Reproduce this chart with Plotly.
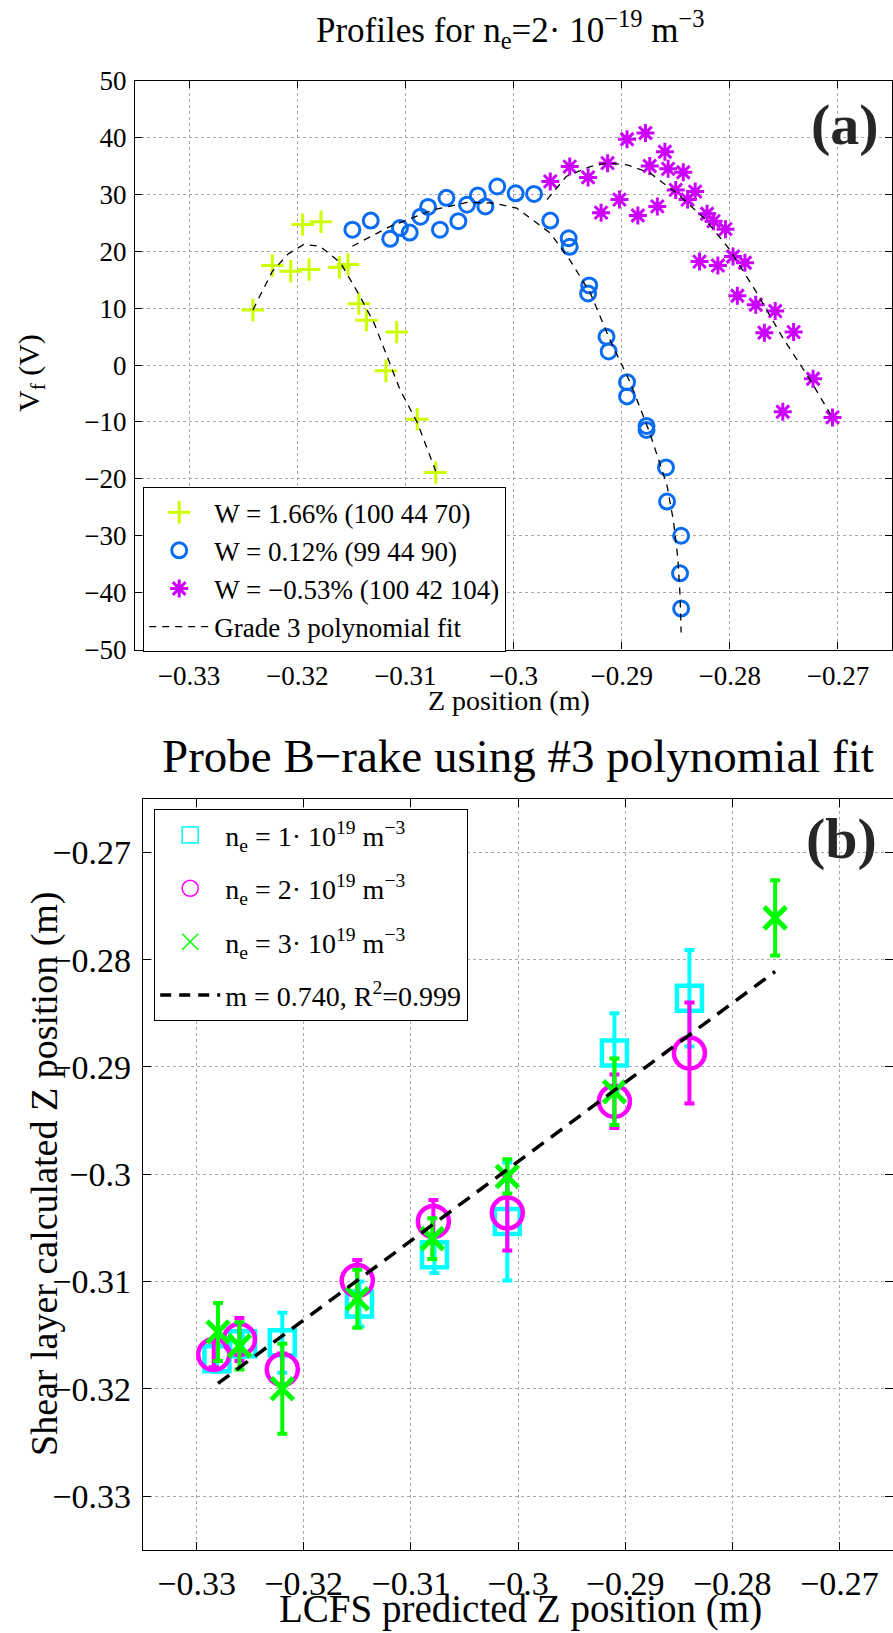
import plotly.graph_objects as go

FONT = "Liberation Serif"

# ---------------- Panel (a): floating potential profiles ----------------
z_w166 = [-0.3241, -0.3223, -0.3206, -0.3195, -0.3189, -0.3178, -0.3161, -0.3153,
          -0.3143, -0.3136, -0.3118, -0.3108, -0.3089, -0.3072]
v_w166 = [9.7, 17.5, 16.5, 24.7, 16.8, 25.2, 17.2, 17.7, 10.8, 7.9, -1.0, 5.8, -9.5, -18.9]

z_w012 = [-0.3149, -0.3132, -0.3114, -0.3105, -0.3096, -0.3086, -0.3079, -0.3068,
          -0.3062, -0.3051, -0.3043, -0.3033, -0.3026, -0.3015, -0.2998, -0.2981,
          -0.2966, -0.2949, -0.2948, -0.2930, -0.2931, -0.2914, -0.2912, -0.2895,
          -0.2895, -0.2877, -0.2877, -0.2859, -0.2858, -0.2845, -0.2846, -0.2845]
v_w012 = [23.8, 25.4, 22.2, 24.1, 23.3, 26.1, 27.8, 23.8, 29.4, 25.3, 28.2, 29.8,
          27.9, 31.4, 30.2, 30.1, 25.4, 22.3, 20.8, 14.0, 12.6, 5.0, 2.4, -3.0,
          -5.5, -10.7, -11.4, -18.0, -24.0, -30.0, -36.6, -42.8]

z_wm053 = [-0.2966, -0.2948, -0.2931, -0.2919, -0.2913, -0.2902, -0.2895, -0.2885,
           -0.2878, -0.2874, -0.2867, -0.2860, -0.2857, -0.2850, -0.2843, -0.2839,
           -0.2832, -0.2828, -0.2821, -0.2815, -0.2811, -0.2804, -0.2797, -0.2793,
           -0.2786, -0.2776, -0.2768, -0.2758, -0.2751, -0.2741, -0.2723, -0.2705]
v_wm053 = [32.3, 34.9, 33.0, 26.8, 35.5, 29.1, 39.7, 26.3, 40.8, 35.0, 27.9, 37.5,
           34.5, 30.8, 33.9, 29.1, 30.5, 18.2, 26.6, 25.3, 17.5, 23.9, 19.1, 12.2,
           18.0, 10.6, 5.7, 9.5, -8.2, 5.8, -2.4, -9.2]

# grade-3 fit curves
fit1_z = [-0.3241, -0.3223, -0.3208, -0.3194, -0.3179, -0.3160, -0.3142, -0.3129,
          -0.3117, -0.3105, -0.3089, -0.3072]
fit1_v = [9.7, 16.5, 19.6, 21.2, 20.9, 18.0, 12.1, 7.4, 1.6, -4.3, -10.1, -18.6]

fit2_z = [-0.3149, -0.3114, -0.3074, -0.3043, -0.3019, -0.2997, -0.2985, -0.2966,
          -0.2948, -0.2929, -0.2911, -0.2892, -0.2874, -0.2858, -0.2852, -0.2848,
          -0.2846, -0.2845]
fit2_v = [20.9, 24.4, 27.3, 28.6, 28.5, 27.6, 25.9, 23.2, 18.5, 12.7, 4.5, -3.1,
          -11.9, -21.2, -27.5, -34.0, -40.5, -47.0]

fit3_z = [-0.2969, -0.2951, -0.2929, -0.2914, -0.2895, -0.2874, -0.2849, -0.2824,
          -0.2800, -0.2775, -0.2751, -0.2726, -0.2707]
fit3_v = [29.1, 33.2, 34.9, 35.5, 35.2, 33.8, 30.2, 25.9, 20.3, 12.7, 4.8, -2.5, -8.6]

labels_a = ["W = 1.66% (100 44 70)", "W = 0.12% (99 44 90)",
            "W = \u22120.53% (100 42 104)", "Grade 3 polynomial fit"]

# ---------------- Panel (b): shear layer vs LCFS ----------------
x_n1 = [-0.3281, -0.3257, -0.3220, -0.3148, -0.3078, -0.3010, -0.2910, -0.2840]
y_n1 = [-0.3172, -0.3158, -0.3157, -0.3121, -0.3075, -0.3044, -0.2887, -0.2836]
e_n1 = [0.0012, 0.0012, 0.0028, 0.0021, 0.0017, 0.0055, 0.0037, 0.0045]

x_n2 = [-0.3284, -0.3260, -0.3220, -0.3150, -0.3079, -0.3010, -0.2910, -0.2840]
y_n2 = [-0.3168, -0.3154, -0.3182, -0.3099, -0.3044, -0.3036, -0.2932, -0.2887]
e_n2 = [0.0012, 0.0020, 0.0015, 0.0019, 0.0020, 0.0035, 0.0025, 0.0047]

x_n3 = [-0.3280, -0.3260, -0.3220, -0.3150, -0.3080, -0.3010, -0.2910, -0.2760]
y_n3 = [-0.3147, -0.3160, -0.3200, -0.3116, -0.3060, -0.3002, -0.2923, -0.2761]
e_n3 = [0.0027, 0.0022, 0.0042, 0.0027, 0.0019, 0.0016, 0.0031, 0.0035]

fitb_x = [-0.3280, -0.2760]
fitb_y = [-0.3195, -0.2811]

labels_b = ["n<sub>e</sub> = 1\u00b7 10<sup>19</sup> m<sup>\u22123</sup>",
            "n<sub>e</sub> = 2\u00b7 10<sup>19</sup> m<sup>\u22123</sup>",
            "n<sub>e</sub> = 3\u00b7 10<sup>19</sup> m<sup>\u22123</sup>",
            "m = 0.740, R<sup>2</sup>=0.999"]

# tick labels
ticks_z = [-0.33, -0.32, -0.31, -0.30, -0.29, -0.28, -0.27]
ticks_z_txt = ["\u22120.33", "\u22120.32", "\u22120.31", "\u22120.3", "\u22120.29", "\u22120.28", "\u22120.27"]
ticks_v = [-50, -40, -30, -20, -10, 0, 10, 20, 30, 40, 50]
ticks_v_txt = ["\u221250", "\u221240", "\u221230", "\u221220", "\u221210", "0", "10", "20", "30", "40", "50"]

C_YEL = "#ccff00"
C_BLU = "#0a6cf2"
C_MAG = "#cc00ff"
C_CYA = "#00ffff"
C_PIN = "#ff00ff"
C_GRN = "#00ff00"

fig = go.Figure()

# ---- panel (a) traces ----
fig.add_trace(go.Scatter(x=z_w166, y=v_w166, mode="markers", name=labels_a[0],
                         marker=dict(symbol="cross-thin-open", size=16, color=C_YEL,
                                     line=dict(color=C_YEL, width=3)),
                         xaxis="x", yaxis="y", legend="legend"))
fig.add_trace(go.Scatter(x=z_w012, y=v_w012, mode="markers", name=labels_a[1],
                         marker=dict(symbol="circle-open", size=15, color=C_BLU,
                                     line=dict(color=C_BLU, width=3)),
                         xaxis="x", yaxis="y", legend="legend"))
fig.add_trace(go.Scatter(x=z_wm053, y=v_wm053, mode="markers", name=labels_a[2],
                         marker=dict(symbol="asterisk-open", size=15, color=C_MAG,
                                     line=dict(color=C_MAG, width=3)),
                         xaxis="x", yaxis="y", legend="legend"))
for i, (fz, fv) in enumerate([(fit1_z, fit1_v), (fit2_z, fit2_v), (fit3_z, fit3_v)]):
    fig.add_trace(go.Scatter(x=fz, y=fv, mode="lines", name=labels_a[3],
                             line=dict(color="black", width=1.3, dash="7px,6px"),
                             showlegend=(i == 0), xaxis="x", yaxis="y", legend="legend"))

# ---- panel (b) traces ----
def eb(vals, color):
    return dict(type="data", array=vals, visible=True, color=color, thickness=4, width=5)

fig.add_trace(go.Scatter(x=x_n1, y=y_n1, mode="markers", showlegend=False,
                         error_y=eb(e_n1, C_CYA),
                         marker=dict(symbol="square-open", size=25, color=C_CYA,
                                     line=dict(color=C_CYA, width=4.5)),
                         xaxis="x2", yaxis="y2"))
fig.add_trace(go.Scatter(x=x_n2, y=y_n2, mode="markers", showlegend=False,
                         error_y=eb(e_n2, C_PIN),
                         marker=dict(symbol="circle-open", size=31, color=C_PIN,
                                     line=dict(color=C_PIN, width=4.5)),
                         xaxis="x2", yaxis="y2"))
fig.add_trace(go.Scatter(x=x_n3, y=y_n3, mode="markers", showlegend=False,
                         error_y=eb(e_n3, C_GRN),
                         marker=dict(symbol="x-thin-open", size=22, color=C_GRN,
                                     line=dict(color=C_GRN, width=5)),
                         xaxis="x2", yaxis="y2"))
fig.add_trace(go.Scatter(x=fitb_x, y=fitb_y, mode="lines", showlegend=False,
                         line=dict(color="black", width=3.5, dash="14px,9px"),
                         xaxis="x2", yaxis="y2"))

# legend proxies for panel (b) (thin symbols as in the original legend)
for k, (name, sym, col) in enumerate([(labels_b[0], "square-open", C_CYA),
                                      (labels_b[1], "circle-open", C_PIN),
                                      (labels_b[2], "x-thin-open", C_GRN)]):
    fig.add_trace(go.Scatter(x=[None], y=[None], mode="markers", name=name,
                             legendgroup="g%d" % k,
                             marker=dict(symbol=sym, size=16, color=col,
                                         line=dict(color=col, width=1.5)),
                             xaxis="x2", yaxis="y2", legend="legend2"))
fig.add_trace(go.Scatter(x=[None], y=[None], mode="lines", name=labels_b[3],
                         legendgroup="g3",
                         line=dict(color="black", width=3.5, dash="11px,8px"),
                         xaxis="x2", yaxis="y2", legend="legend2"))

W, H = 893, 1633

def px(x):
    return x / W

def py(y):
    return 1 - y / H

axis_common = dict(showline=True, linecolor="black", linewidth=1.3, mirror="ticks",
                   ticks="inside", tickcolor="black", tickwidth=1.2,
                   showgrid=True, gridcolor="#a8a8a8", griddash="dot", gridwidth=1,
                   zeroline=False, automargin=False)

fig.update_layout(
    width=W, height=H, margin=dict(l=0, r=0, t=0, b=0),
    paper_bgcolor="white", plot_bgcolor="white",
    font=dict(family=FONT, color="black"),
    xaxis=dict(domain=[px(135), px(892)], range=[-0.335, -0.265], anchor="y",
               tickvals=ticks_z, ticktext=ticks_z_txt, ticklen=7,
               tickfont=dict(size=27, family=FONT), ticklabelstandoff=2, **axis_common),
    yaxis=dict(domain=[py(649.5), py(80.7)], range=[-50, 50], anchor="x",
               tickvals=ticks_v, ticktext=ticks_v_txt, ticklen=7,
               tickfont=dict(size=27, family=FONT), ticklabelstandoff=2, **axis_common),
    xaxis2=dict(domain=[px(143), 1.0], range=[-0.335, -0.265], anchor="y2",
                tickvals=ticks_z, ticktext=ticks_z_txt, ticklen=8,
                tickfont=dict(size=34, family=FONT), ticklabelstandoff=3, **axis_common),
    yaxis2=dict(domain=[py(1549.7), py(798.8)], range=[-0.335, -0.265], anchor="x2",
                tickvals=ticks_z, ticktext=ticks_z_txt, ticklen=8,
                tickfont=dict(size=34, family=FONT), ticklabelstandoff=4, **axis_common),
    legend=dict(x=px(143), y=py(487), xanchor="left", yanchor="top",
                bgcolor="white", bordercolor="black", borderwidth=1.2,
                font=dict(size=27, family=FONT), itemwidth=60, tracegroupgap=0),
    legend2=dict(x=px(154), y=py(809), xanchor="left", yanchor="top",
                 bgcolor="white", bordercolor="black", borderwidth=1.2,
                 font=dict(size=28, family=FONT), itemwidth=60, tracegroupgap=14),
    showlegend=True,
)

annots = [
    dict(text="Profiles for n<sub>e</sub>=2\u00b7 10<sup>\u221219</sup> m<sup>\u22123</sup>",
         x=px(510), y=py(30), font=dict(size=35)),
    dict(text="<b>(a)</b>", x=px(845), y=py(124), font=dict(size=58, color="#262626")),
    dict(text="Z position (m)", x=px(509), y=py(700), font=dict(size=28)),
    dict(text="V<sub>f</sub> (V)", x=px(31), y=py(373), font=dict(size=30), textangle=-90),
    dict(text="Probe B\u2212rake using #3 polynomial fit", x=px(518), y=py(756),
         font=dict(size=47)),
    dict(text="<b>(b)</b>", x=px(841), y=py(838), font=dict(size=58, color="#262626")),
    dict(text="LCFS predicted Z position (m)", x=px(520), y=py(1609), font=dict(size=39)),
    dict(text="Shear layer calculated Z position (m)", x=px(44), y=py(1174),
         font=dict(size=38), textangle=-90),
]
for a in annots:
    a.update(xref="paper", yref="paper", xanchor="center", yanchor="middle",
             showarrow=False)
    a["font"].setdefault("family", FONT)
    a["font"].setdefault("color", "black")
fig.update_layout(annotations=annots)

fig.write_html("out.html",
               post_script="document.body.style.margin='0';"
                           "document.body.style.overflow='hidden';")
